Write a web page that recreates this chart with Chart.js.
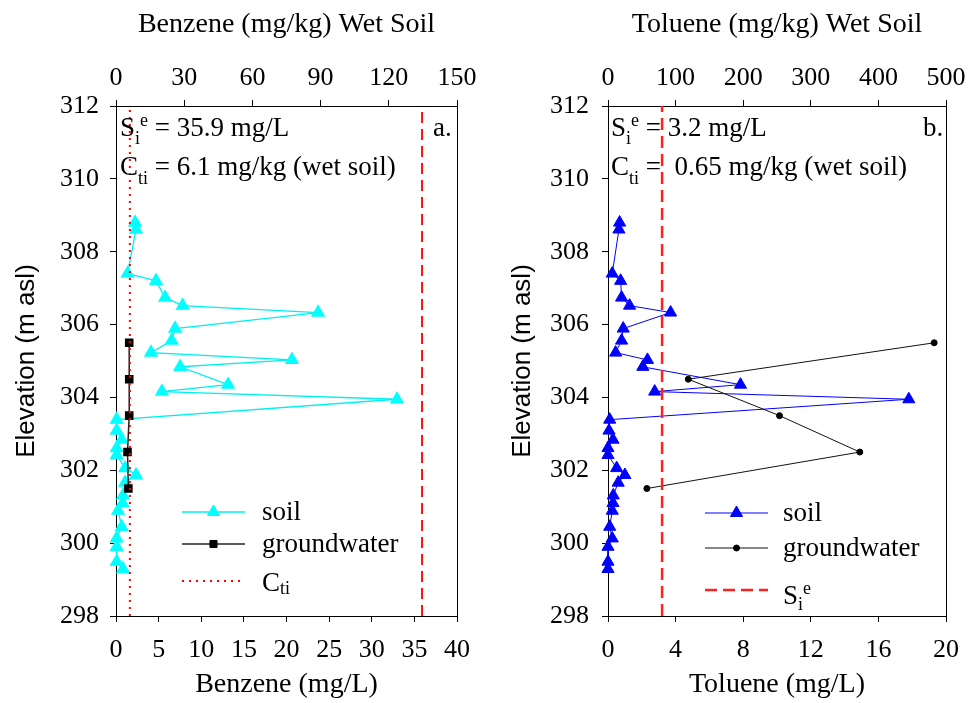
<!DOCTYPE html>
<html>
<head>
<meta charset="utf-8">
<title>Benzene and toluene profiles</title>
<script src="https://cdn.jsdelivr.net/npm/chart.js@4.4.1/dist/chart.umd.min.js"></script>
<style>
  body { margin: 0; background: #fff; }
  canvas { position: absolute; top: 0; }
  #benzene { left: 0; }
  #toluene { left: 486px; }
</style>
</head>
<body>
<canvas id="benzene" width="486" height="703"></canvas>
<canvas id="toluene" width="486" height="703"></canvas>
<script>
// soil core sample elevations (m asl), shared by both compounds
var soilElev = [308.80, 308.61, 307.40, 307.20, 306.74, 306.52, 306.33, 305.89, 305.56, 305.23,
  305.03, 304.84, 304.35, 304.16, 303.95, 303.39, 303.09, 302.84, 302.61, 302.42,
  302.06, 301.87, 301.66, 301.31, 301.10, 300.89, 300.45, 300.13, 299.90, 299.49, 299.29];
// soil concentrations, mg/kg wet soil (top axes)
var benzeneSoil = [8.4, 8.8, 5.1, 17.6, 21.6, 29.3, 88.9, 26.0, 24.5, 15.4,
  77.4, 28.2, 49.3, 20.2, 123.6, 0.3, 0.3, 2.5, 0.3, 0.3,
  4.0, 8.8, 4.0, 3.1, 2.9, 0.9, 2.5, 0.3, 0.3, 0.3, 3.1];
var tolueneSoil = [17.2, 16.2, 6.3, 18.7, 20.1, 31.9, 92.6, 22.5, 20.1, 11.3,
  58.4, 51.5, 196, 69.1, 445, 2.5, 1.5, 7.4, 0, 0,
  12.8, 25, 15.1, 7.8, 7.4, 6.3, 2.5, 6.3, 0, 0, 0];

// groundwater samples, mg/L (bottom axes)
var gwElev = [305.5, 304.5, 303.5, 302.5, 301.5];
var benzeneGw = [1.55, 1.55, 1.55, 1.35, 1.45];
var tolueneGw = [19.3, 4.75, 10.15, 14.9, 2.3];

// effective solubility (mg/L) and soil threshold (mg/kg)
var benzeneSie = 35.9, benzeneCti = 6.1;
var tolueneSie = 3.2, tolueneCti = 0.65;

// axis ranges and ticks
var elevTicks = [298, 312, 2];
var benzeneLTicks = [0, 40, 5];
var benzeneKgTicks = [0, 150, 30];
var tolueneLTicks = [0, 20, 4];
var tolueneKgTicks = [0, 500, 100];

var SERIF = '"Liberation Serif", "Times New Roman", serif';
var SANS = '"Liberation Sans", Arial, sans-serif';

function pts(xs, ys) {
  return xs.map(function (v, i) { return { x: v, y: ys[i] }; });
}
function vline(v) {
  return [{ x: v, y: elevTicks[0] }, { x: v, y: elevTicks[1] }];
}

// text with sub/superscripts, parts are drawn one after another
function drawRich(ctx, x, y, parts) {
  ctx.textAlign = 'left';
  ctx.textBaseline = 'alphabetic';
  ctx.fillStyle = '#000';
  parts.forEach(function (p) {
    ctx.font = (p.small ? '18px ' : '27px ') + SERIF;
    ctx.fillText(p.t, x, y + (p.dy || 0));
    x += ctx.measureText(p.t).width;
  });
}

function drawMarker(ctx, ds, x, y) {
  if (!ds.pointStyle) return;
  ctx.save();
  ctx.fillStyle = ds.pointBackgroundColor;
  ctx.strokeStyle = ds.pointBorderColor;
  ctx.lineWidth = 1;
  Chart.helpers.drawPoint(ctx, { pointStyle: ds.pointStyle, radius: ds.pointRadius, rotation: 0, borderWidth: 1 }, x, y);
  ctx.restore();
}

// annotations + hand placed legend inside the plot
function panelPlugin(cfg) {
  return {
    id: 'panelText',
    afterDraw: function (chart) {
      var ctx = chart.ctx, a = chart.chartArea;
      ctx.save();
      cfg.notes.forEach(function (n) { drawRich(ctx, a.left + n.x, a.top + n.y, n.parts); });
      cfg.legend.forEach(function (row) {
        var ds = chart.data.datasets[row.ds];
        var x0 = a.left + cfg.legendX[0], x1 = a.left + cfg.legendX[1];
        ctx.save();
        ctx.strokeStyle = ds.borderColor;
        ctx.lineWidth = ds.borderWidth;
        ctx.setLineDash(ds.borderDash || []);
        ctx.beginPath();
        ctx.moveTo(x0, row.y);
        ctx.lineTo(x1, row.y);
        ctx.stroke();
        ctx.restore();
        drawMarker(ctx, ds, (x0 + x1) / 2, row.y);
        drawRich(ctx, a.left + cfg.legendX[2], row.y + row.base, row.parts);
      });
      ctx.restore();
    }
  };
}

function makeScales(opt) {
  var tickFont = { family: SERIF, size: 26 };
  var titleFont = { family: SERIF, size: 28 };
  var grid = { drawOnChartArea: false, color: '#000', tickLength: 6, lineWidth: 1 };
  var border = { color: '#000', width: 1 };
  return {
    x: {
      type: 'linear', position: 'bottom', min: opt.lTicks[0], max: opt.lTicks[1],
      ticks: { stepSize: opt.lTicks[2], font: tickFont, color: '#000', padding: 13, maxRotation: 0, autoSkip: false },
      grid: grid, border: border,
      title: { display: true, text: opt.lTitle, font: titleFont, color: '#000', padding: { top: 0, bottom: 2 } },
      afterFit: function (s) { s.height = 87; }
    },
    xTop: {
      type: 'linear', position: 'top', min: opt.kgTicks[0], max: opt.kgTicks[1],
      ticks: { stepSize: opt.kgTicks[2], font: tickFont, color: '#000', padding: 6, maxRotation: 0, autoSkip: false },
      grid: grid, border: border,
      title: { display: true, text: opt.kgTitle, font: titleFont, color: '#000', padding: { top: 8, bottom: 0 } },
      afterFit: function (s) { s.height = 106; }
    },
    y: {
      type: 'linear', position: 'left', min: elevTicks[0], max: elevTicks[1],
      ticks: { stepSize: elevTicks[2], font: tickFont, color: '#000', padding: opt.yPad },
      grid: grid, border: border,
      title: { display: true, text: 'Elevation (m asl)', font: { family: SANS, size: 26 }, color: '#000', padding: { top: opt.yTitlePad, bottom: 0 } },
      afterFit: function (s) { s.width = opt.yWidth; }
    },
    yR: {
      type: 'linear', position: 'right', min: elevTicks[0], max: elevTicks[1],
      ticks: { display: false },
      grid: { drawOnChartArea: false, drawTicks: false },
      border: border,
      afterFit: function (s) { s.width = 0; }
    }
  };
}

var benzeneChart = new Chart(document.getElementById('benzene'), {
  type: 'scatter',
  data: {
    datasets: [{
      label: 'Cti',
      data: vline(benzeneCti),
      xAxisID: 'xTop', yAxisID: 'y',
      showLine: true, borderColor: '#ff0000', borderWidth: 2, borderDash: [2, 5],
      pointRadius: 0, clip: false
    }, {
      label: 'Sie',
      data: vline(benzeneSie),
      xAxisID: 'x', yAxisID: 'y',
      showLine: true, borderColor: '#ff1010', borderWidth: 2, borderDash: [11, 6],
      pointRadius: 0
    }, {
      label: 'groundwater',
      data: pts(benzeneGw, gwElev),
      xAxisID: 'x', yAxisID: 'y',
      showLine: true, borderColor: '#222', borderWidth: 1.5,
      pointStyle: 'rect', pointRadius: 5, pointBackgroundColor: '#000', pointBorderColor: '#000',
      clip: false
    }, {
      label: 'soil',
      data: pts(benzeneSoil, soilElev),
      xAxisID: 'xTop', yAxisID: 'y',
      showLine: true, borderColor: '#00f0f0', borderWidth: 1.3,
      pointStyle: 'triangle', pointRadius: 7, pointBackgroundColor: '#00ffff', pointBorderColor: '#00ffff',
      clip: false
    }]
  },
  options: {
    responsive: false,
    animation: false,
    layout: { padding: { left: 0, right: 29, top: 0, bottom: 0 } },
    plugins: { legend: { display: false }, tooltip: { enabled: false } },
    scales: makeScales({
      lTicks: benzeneLTicks, kgTicks: benzeneKgTicks,
      lTitle: 'Benzene (mg/L)', kgTitle: 'Benzene (mg/kg) Wet Soil',
      yWidth: 116, yPad: 11, yTitlePad: 11
    })
  },
  plugins: [panelPlugin({
    notes: [
      { x: 4, y: 30, parts: [{ t: 'S' }, { t: 'i', small: 1, dy: 8 }, { t: 'e', small: 1, dy: -10 }, { t: ' = ' + benzeneSie + ' mg/L' }] },
      { x: 4, y: 69, parts: [{ t: 'C' }, { t: 'ti', small: 1, dy: 9 }, { t: ' = ' + benzeneCti + ' mg/kg (wet soil)' }] },
      { x: 317, y: 30, parts: [{ t: 'a.' }] }
    ],
    legendX: [66, 129, 146],
    legend: [
      { ds: 3, y: 512, base: 8, parts: [{ t: 'soil' }] },
      { ds: 2, y: 544, base: 8, parts: [{ t: 'groundwater' }] },
      { ds: 0, y: 581, base: 10, parts: [{ t: 'C' }, { t: 'ti', small: 1, dy: 3 }] }
    ]
  })]
});

var tolueneChart = new Chart(document.getElementById('toluene'), {
  type: 'scatter',
  data: {
    datasets: [{
      label: 'Sie',
      data: vline(tolueneSie),
      xAxisID: 'x', yAxisID: 'y',
      showLine: true, borderColor: '#ff2020', borderWidth: 2.5, borderDash: [12, 6],
      pointRadius: 0
    }, {
      label: 'Cti',
      data: vline(tolueneCti),
      xAxisID: 'xTop', yAxisID: 'y',
      showLine: true, borderColor: '#ff0000', borderWidth: 0,
      pointRadius: 0
    }, {
      label: 'groundwater',
      data: pts(tolueneGw, gwElev),
      xAxisID: 'x', yAxisID: 'y',
      showLine: true, borderColor: '#111', borderWidth: 1,
      pointStyle: 'circle', pointRadius: 3, pointBackgroundColor: '#000', pointBorderColor: '#000',
      clip: false
    }, {
      label: 'soil',
      data: pts(tolueneSoil, soilElev),
      xAxisID: 'xTop', yAxisID: 'y',
      showLine: true, borderColor: '#0000ff', borderWidth: 1,
      pointStyle: 'triangle', pointRadius: 7, pointBackgroundColor: '#0000ff', pointBorderColor: '#0000ff',
      clip: false
    }]
  },
  options: {
    responsive: false,
    animation: false,
    layout: { padding: { left: 0, right: 23, top: 0, bottom: 0 } },
    plugins: { legend: { display: false }, tooltip: { enabled: false } },
    scales: makeScales({
      lTicks: tolueneLTicks, kgTicks: tolueneKgTicks,
      lTitle: 'Toluene (mg/L)', kgTitle: 'Toluene (mg/kg) Wet Soil',
      yWidth: 122, yPad: 13, yTitlePad: 21
    })
  },
  plugins: [panelPlugin({
    notes: [
      { x: 3, y: 30, parts: [{ t: 'S' }, { t: 'i', small: 1, dy: 8 }, { t: 'e', small: 1, dy: -10 }, { t: ' = ' + tolueneSie + ' mg/L' }] },
      { x: 3, y: 69, parts: [{ t: 'C' }, { t: 'ti', small: 1, dy: 9 }, { t: ' =  ' + tolueneCti + ' mg/kg (wet soil)' }] },
      { x: 315, y: 30, parts: [{ t: 'b.' }] }
    ],
    legendX: [97, 160, 175],
    legend: [
      { ds: 3, y: 513, base: 8, parts: [{ t: 'soil' }] },
      { ds: 2, y: 548, base: 8, parts: [{ t: 'groundwater' }] },
      { ds: 0, y: 590, base: 14, parts: [{ t: 'S' }, { t: 'i', small: 1, dy: 6 }, { t: 'e', small: 1, dy: -10 }] }
    ]
  })]
});
</script>
</body>
</html>
